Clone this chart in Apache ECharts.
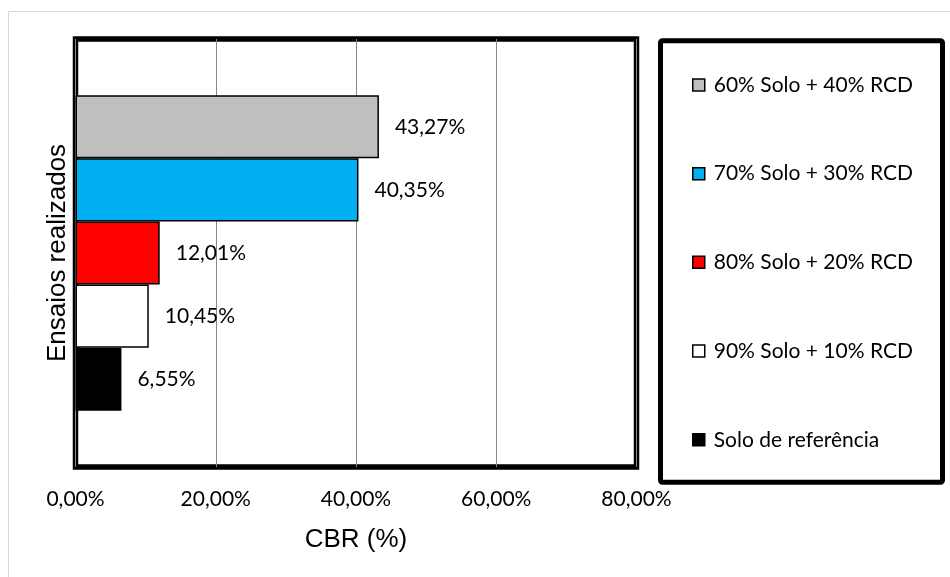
<!DOCTYPE html>
<html>
<head>
<meta charset="utf-8">
<script src="https://cdn.jsdelivr.net/npm/echarts@6/dist/echarts.min.js"></script>
<style>html,body{margin:0;padding:0;background:#fff}#c{width:950px;height:577px}</style>
</head>
<body>
<div id="c"></div>
<script>
const categories = [''];
const seriesNames = ['60% Solo + 40% RCD', '70% Solo + 30% RCD', '80% Solo + 20% RCD', '90% Solo + 10% RCD', 'Solo de referência'];
const seriesValues = [[43.27], [40.35], [12.01], [10.45], [6.55]];
const seriesColors = ['#bfbfbf', '#00b0f0', '#ff0000', '#ffffff', '#000000'];
const xTicks = { min: 0, max: 80, interval: 20 };
const xAxisTitle = 'CBR (%)';
const yAxisTitle = 'Ensaios realizados';

const fmt = v => v.toFixed(2).replace('.', ',') + '%';
const calib = 'Lato, "Noto Sans", sans-serif';
const arial = '"Liberation Sans", Arial, sans-serif';

const chart = echarts.init(document.getElementById('c'), null, { renderer: 'canvas' });
chart.setOption({
  animation: false,
  backgroundColor: '#fff',
  graphic: [
    { type: 'rect', z: -10, shape: { x: 8.5, y: 11.5, width: 980, height: 620 }, style: { fill: '#fff', stroke: '#d9d9d9', lineWidth: 1 } },
    { type: 'rect', z: 0, shape: { x: 660.5, y: 40.8, width: 282, height: 441.5, r: 2 }, style: { fill: 'none', stroke: '#000', lineWidth: 5 } }
  ],
  grid: { left: 75.5, right: 313.5, top: 39, bottom: 110, show: true, borderColor: '#000', borderWidth: 5.5, backgroundColor: 'transparent' },
  legend: {
    orient: 'vertical', left: 687, top: 35.6, padding: 5, itemGap: 0, itemWidth: 12, itemHeight: 12,
    icon: 'rect',
    data: seriesNames,
    itemStyle: { borderColor: '#000', borderWidth: 1.5 },
    textStyle: { fontFamily: calib, fontSize: 21, color: '#000', lineHeight: 88.7, padding: [0, 0, 0, 4] }
  },
  xAxis: {
    type: 'value', min: xTicks.min, max: xTicks.max, interval: xTicks.interval,
    axisLine: { show: false }, axisTick: { show: false },
    splitLine: { show: true, lineStyle: { color: '#878787', width: 1 } },
    axisLabel: { formatter: fmt, fontFamily: calib, fontSize: 21, color: '#000', margin: 22 },
    name: xAxisTitle, nameLocation: 'middle', nameGap: 60,
    nameTextStyle: { fontFamily: arial, fontSize: 26, color: '#000' }
  },
  yAxis: {
    type: 'category', data: categories,
    axisLine: { show: false }, axisTick: { show: false }, axisLabel: { show: false },
    name: yAxisTitle, nameLocation: 'middle', nameGap: 5,
    nameTextStyle: { fontFamily: arial, fontSize: 26, color: '#000' }
  },
  series: seriesNames.map((n, i) => ({
    name: n, type: 'bar', data: seriesValues[i],
    barGap: 0, barCategoryGap: '26.3%',
    itemStyle: { color: seriesColors[i], borderColor: '#000', borderWidth: 1.5 },
    label: { show: true, position: 'right', distance: 16, formatter: p => fmt(p.value), fontFamily: calib, fontSize: 21, color: '#000' }
  }))
});
</script>
</body>
</html>
